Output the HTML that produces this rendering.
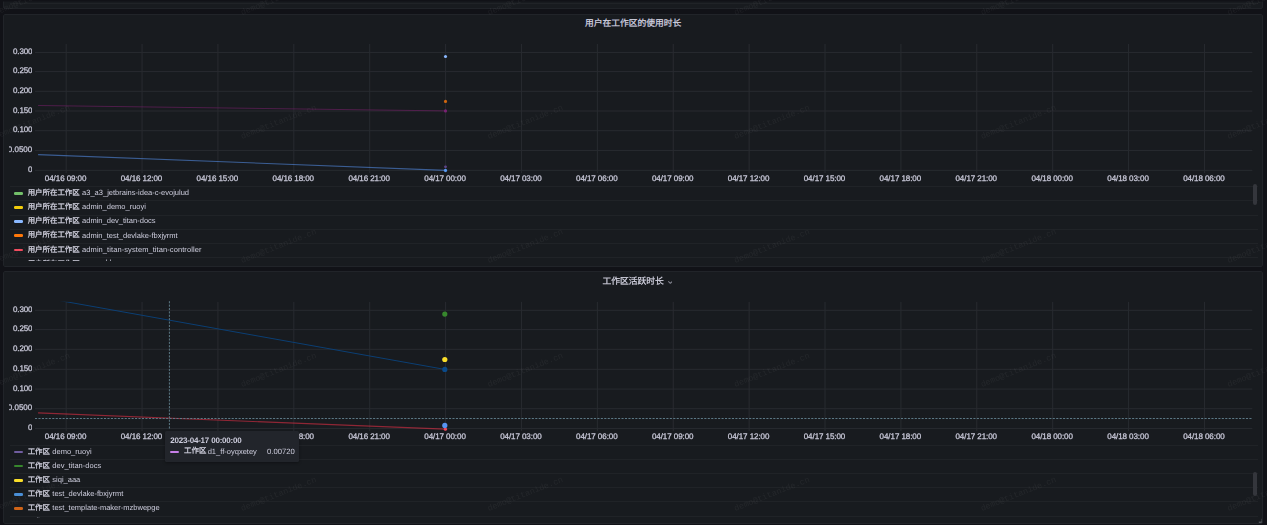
<!DOCTYPE html>
<html lang="zh-CN">
<head>
<meta charset="utf-8">
<title>Dashboard</title>
<style>
html,body{margin:0;padding:0;background:#111217;}
body{text-rendering:geometricPrecision;width:1267px;height:525px;overflow:hidden;font-family:"Liberation Sans",sans-serif;color:#ccccdc;}
.dash{position:relative;width:1267px;height:525px;overflow:hidden;background:#111217;}
.prev{position:absolute;left:3px;top:-20px;width:1260px;height:28.7px;box-sizing:border-box;background:#181b1f;border:1px solid #202328;border-radius:2px;}
.prevline{position:absolute;left:5.5px;right:4.5px;top:22px;height:1px;background:#202327;}
.panel{position:absolute;left:3px;width:1260px;height:253px;box-sizing:border-box;background:#181b1f;border-radius:2px;overflow:hidden;}
.panel:after{content:"";position:absolute;inset:0;border:1px solid #212429;border-radius:2px;pointer-events:none;}
.ptitle{position:absolute;left:0;width:1260.3px;height:0;display:flex;align-items:center;justify-content:center;}
.cjk{display:block;flex:none;overflow:visible;white-space:nowrap;font-family:"Liberation Sans","Noto Sans CJK SC",sans-serif;color:#d2d2e0;-webkit-text-stroke:.25px #d2d2e0;letter-spacing:0;}
.cjk.t{font-size:8.78px;line-height:8.78px;height:8.78px;}
.cjk.s{font-size:7.45px;line-height:7.45px;height:7.45px;}
.legend .cjk,.legend li b{position:relative;top:-.2px;}
.chev{position:absolute;left:664.8px;top:-0.25px;}
.chart{position:absolute;left:0;top:0;overflow:hidden;}
.grid line{stroke:#282b30;stroke-width:1;shape-rendering:auto;}
.yaxis{position:absolute;left:6px;width:23.3px;overflow:hidden;}
.yaxis span{position:absolute;right:0;height:0;line-height:0;font-size:8px;letter-spacing:-.15px;white-space:nowrap;color:#c8c8d8;-webkit-text-stroke:.28px #c8c8d8;}
.xaxis span{position:absolute;width:0;height:0;line-height:0;font-size:8px;letter-spacing:-.07px;white-space:nowrap;display:flex;justify-content:center;color:#c8c8d8;-webkit-text-stroke:.28px #c8c8d8;}
.xaxis,.yaxis{will-change:transform;}
.legend{position:absolute;left:6.5px;width:1248px;overflow:hidden;}
.legend ul{list-style:none;margin:0;padding:0;}
.legend li{box-sizing:border-box;border-top:1px solid #202327;padding-bottom:1.9px;display:flex;align-items:center;white-space:nowrap;position:relative;}
.legend li i{display:block;flex:none;margin-left:4.5px;width:9px;height:2.7px;border-radius:1.3px;margin-right:4.7px;position:relative;top:.45px;}
.legend li b,.tip b{font-weight:normal;font-size:7.53px;margin-left:2.3px;letter-spacing:0;}
.sbar{position:absolute;left:1249.9px;width:4.2px;border-radius:2.1px;background:#34363c;}
.tip{position:absolute;width:134.4px;height:31.6px;background:#22252b;border-radius:1.5px;box-shadow:0 1px 3px rgba(0,0,0,.35);}
.tt{position:absolute;left:5.1px;top:9.9px;height:0;line-height:0;font-size:8px;letter-spacing:-.2px;font-weight:bold;white-space:nowrap;}
.tr{position:absolute;left:5.1px;right:4.6px;top:20.5px;height:0;display:flex;align-items:center;white-space:nowrap;}
.tr i{display:block;flex:none;width:8.8px;height:2px;border-radius:1px;background:#c77fe8;margin-right:5.1px;position:relative;top:.5px;}
.tip b{margin-left:1.3px !important;}
.tr em{font-style:normal;font-size:7.7px;margin-left:auto;}
.rz{position:absolute;}
.wm{position:absolute;left:0;top:0;pointer-events:none;}
.wm text{font-family:"Liberation Mono",monospace;font-size:8.4px;fill:#ffffff;fill-opacity:.05;}
.legend li:nth-child(6) .cjk{top:-.3px;}
.legend li:nth-child(6) b{top:-1.2px;}
.topshade{position:absolute;left:0;top:0;width:1267px;height:2px;background:linear-gradient(#111217 0,#111217 1.1px,rgba(17,18,23,0) 2px);}
.yaxis span:nth-child(6){letter-spacing:.02px;}
.p1 .legend li:nth-child(5) b{letter-spacing:.07px;}

</style>
</head>
<body>

<main class="dash">
<section class="prev"><div class="prevline"></div></section>
<div class="topshade"></div>
<section class="panel p1" style="top:14.0px">
<header class="ptitle" style="top:9.30px"><span class="cjk t">用户在工作区的使用时长</span></header>
<svg class="chart" width="1260.0" height="253.0" viewBox="3.0 14.0 1260.0 253.0"><g class="grid"><line x1="35.0" x2="1252.3" y1="52.45" y2="52.45"/><line x1="35.0" x2="1252.3" y1="71.60" y2="71.60"/><line x1="35.0" x2="1252.3" y1="91.30" y2="91.30"/><line x1="35.0" x2="1252.3" y1="111.00" y2="111.00"/><line x1="35.0" x2="1252.3" y1="130.70" y2="130.70"/><line x1="35.0" x2="1252.3" y1="150.45" y2="150.45"/><line x1="35.0" x2="1252.3" y1="170.35" y2="170.35"/><line x1="66.16" x2="66.16" y1="44.0" y2="173.0"/><line x1="142.05" x2="142.05" y1="44.0" y2="173.0"/><line x1="217.93" x2="217.93" y1="44.0" y2="173.0"/><line x1="293.82" x2="293.82" y1="44.0" y2="173.0"/><line x1="369.71" x2="369.71" y1="44.0" y2="173.0"/><line x1="445.60" x2="445.60" y1="44.0" y2="173.0"/><line x1="521.48" x2="521.48" y1="44.0" y2="173.0"/><line x1="597.37" x2="597.37" y1="44.0" y2="173.0"/><line x1="673.26" x2="673.26" y1="44.0" y2="173.0"/><line x1="749.14" x2="749.14" y1="44.0" y2="173.0"/><line x1="825.03" x2="825.03" y1="44.0" y2="173.0"/><line x1="900.92" x2="900.92" y1="44.0" y2="173.0"/><line x1="976.80" x2="976.80" y1="44.0" y2="173.0"/><line x1="1052.69" x2="1052.69" y1="44.0" y2="173.0"/><line x1="1128.58" x2="1128.58" y1="44.0" y2="173.0"/><line x1="1204.47" x2="1204.47" y1="44.0" y2="173.0"/></g>
<g class="series" fill="none" stroke-linecap="butt">
<line x1="38.1" y1="105.5" x2="445.5" y2="110.9" stroke="#6d1f62" stroke-opacity=".64" stroke-width="1"/>
<line x1="38.1" y1="154.6" x2="445.5" y2="170.4" stroke="#5794f2" stroke-opacity=".55" stroke-width="1.1"/>
</g>
<g class="pts">
<circle cx="445.5" cy="56.5" r="1.55" fill="#8ab8ff"/>
<circle cx="445.5" cy="101.4" r="1.55" fill="#d0660f"/>
<circle cx="445.5" cy="110.9" r="1.55" fill="#7a2273"/>
<circle cx="445.5" cy="166.8" r="1.4" fill="#5f4589"/>
<circle cx="445.5" cy="170.4" r="1.6" fill="#5a9cf5"/>
</g></svg>
<div class="yaxis" style="top:0;height:253.0px">
<span style="top:38.20px">0.300</span>
<span style="top:57.35px">0.250</span>
<span style="top:77.05px">0.200</span>
<span style="top:96.75px">0.150</span>
<span style="top:116.45px">0.100</span>
<span style="top:136.20px">0.0500</span>
<span style="top:156.10px">0</span>
</div>
<div class="xaxis">
<span style="left:62.60px;top:165.20px">04/16 09:00</span>
<span style="left:138.49px;top:165.20px">04/16 12:00</span>
<span style="left:214.37px;top:165.20px">04/16 15:00</span>
<span style="left:290.26px;top:165.20px">04/16 18:00</span>
<span style="left:366.15px;top:165.20px">04/16 21:00</span>
<span style="left:442.04px;top:165.20px">04/17 00:00</span>
<span style="left:517.92px;top:165.20px">04/17 03:00</span>
<span style="left:593.81px;top:165.20px">04/17 06:00</span>
<span style="left:669.70px;top:165.20px">04/17 09:00</span>
<span style="left:745.58px;top:165.20px">04/17 12:00</span>
<span style="left:821.47px;top:165.20px">04/17 15:00</span>
<span style="left:897.36px;top:165.20px">04/17 18:00</span>
<span style="left:973.24px;top:165.20px">04/17 21:00</span>
<span style="left:1049.13px;top:165.20px">04/18 00:00</span>
<span style="left:1125.02px;top:165.20px">04/18 03:00</span>
<span style="left:1200.91px;top:165.20px">04/18 06:00</span>
</div>
<div class="legend" style="top:172.30px;height:74.80px">
<ul>
<li style="height:14.13px"><i style="background:#73bf69"></i><span class="cjk s">用户所在工作区</span><b>a3_a3_jetbrains-idea-c-evojulud</b></li>
<li style="height:14.13px"><i style="background:#f2cc0c"></i><span class="cjk s">用户所在工作区</span><b>admin_demo_ruoyi</b></li>
<li style="height:14.13px"><i style="background:#8ab8ff"></i><span class="cjk s">用户所在工作区</span><b>admin_dev_titan-docs</b></li>
<li style="height:14.13px"><i style="background:#ff780a"></i><span class="cjk s">用户所在工作区</span><b>admin_test_devlake-fbxjyrmt</b></li>
<li style="height:14.13px"><i style="background:#f2495c"></i><span class="cjk s">用户所在工作区</span><b>admin_titan-system_titan-controller</b></li>
<li style="height:14.13px"><i style="background:#5794f2"></i><span class="cjk s">用户所在工作区</span><b>aaron_hkcms</b></li>
</ul>
</div>
<div class="sbar" style="top:170.30px;height:20.6px"></div>

</section>
<section class="panel p2" style="top:271.0px">
<header class="ptitle" style="top:10.10px"><span class="cjk t">工作区活跃时长</span><svg class="chev" width="4.7" height="3" viewBox="0 0 4.7 3"><path d="M0.6 0.6 L2.35 2.3 L4.1 0.6" fill="none" stroke="#82848f" stroke-width="1.05" stroke-linecap="round" stroke-linejoin="round"/></svg></header>
<svg class="chart" width="1260.0" height="253.0" viewBox="3.0 271.0 1260.0 253.0"><g class="grid"><line x1="35.0" x2="1252.3" y1="310.30" y2="310.30"/><line x1="35.0" x2="1252.3" y1="329.60" y2="329.60"/><line x1="35.0" x2="1252.3" y1="349.30" y2="349.30"/><line x1="35.0" x2="1252.3" y1="369.30" y2="369.30"/><line x1="35.0" x2="1252.3" y1="389.10" y2="389.10"/><line x1="35.0" x2="1252.3" y1="408.70" y2="408.70"/><line x1="35.0" x2="1252.3" y1="428.45" y2="428.45"/><line x1="66.16" x2="66.16" y1="301.9" y2="431.0"/><line x1="142.05" x2="142.05" y1="301.9" y2="431.0"/><line x1="217.93" x2="217.93" y1="301.9" y2="431.0"/><line x1="293.82" x2="293.82" y1="301.9" y2="431.0"/><line x1="369.71" x2="369.71" y1="301.9" y2="431.0"/><line x1="445.60" x2="445.60" y1="301.9" y2="431.0"/><line x1="521.48" x2="521.48" y1="301.9" y2="431.0"/><line x1="597.37" x2="597.37" y1="301.9" y2="431.0"/><line x1="673.26" x2="673.26" y1="301.9" y2="431.0"/><line x1="749.14" x2="749.14" y1="301.9" y2="431.0"/><line x1="825.03" x2="825.03" y1="301.9" y2="431.0"/><line x1="900.92" x2="900.92" y1="301.9" y2="431.0"/><line x1="976.80" x2="976.80" y1="301.9" y2="431.0"/><line x1="1052.69" x2="1052.69" y1="301.9" y2="431.0"/><line x1="1128.58" x2="1128.58" y1="301.9" y2="431.0"/><line x1="1204.47" x2="1204.47" y1="301.9" y2="431.0"/></g>
<defs><clipPath id="c2"><rect x="35" y="301.8" width="1218" height="130"/></clipPath></defs>
<g class="series" fill="none" clip-path="url(#c2)">
<line x1="38.1" y1="296.7" x2="444.8" y2="369.4" stroke="#0a437c" stroke-opacity=".9" stroke-width="1"/>
<line x1="38.1" y1="412.9" x2="445.4" y2="429.2" stroke="#e02f44" stroke-opacity=".6" stroke-width="1.2"/>
</g>
<g class="cross" stroke="#607d8b" stroke-opacity=".95" stroke-width="1" stroke-dasharray="2.1 1.35">
<line x1="169.4" x2="169.4" y1="301.2" y2="428.5" stroke-dasharray="2.1 1.284"/>
<line x1="35" x2="1252.3" y1="418.5" y2="418.5"/>
</g>
<g class="pts">
<circle cx="444.8" cy="314.1" r="2.6" fill="#37872d"/>
<circle cx="444.8" cy="359.5" r="2.6" fill="#fade2a"/>
<circle cx="444.8" cy="369.4" r="2.6" fill="#0a4a8a"/>
<circle cx="445.4" cy="429.2" r="1.6" fill="#f2495c"/>
<circle cx="444.8" cy="425.4" r="2.6" fill="#5794f2"/>
</g></svg>
<div class="yaxis" style="top:0;height:253.0px">
<span style="top:39.05px">0.300</span>
<span style="top:58.35px">0.250</span>
<span style="top:78.05px">0.200</span>
<span style="top:98.05px">0.150</span>
<span style="top:117.85px">0.100</span>
<span style="top:137.45px">0.0500</span>
<span style="top:157.20px">0</span>
</div>
<div class="xaxis">
<span style="left:62.60px;top:166.20px">04/16 09:00</span>
<span style="left:138.49px;top:166.20px">04/16 12:00</span>
<span style="left:214.37px;top:166.20px">04/16 15:00</span>
<span style="left:290.26px;top:166.20px">04/16 18:00</span>
<span style="left:366.15px;top:166.20px">04/16 21:00</span>
<span style="left:442.04px;top:166.20px">04/17 00:00</span>
<span style="left:517.92px;top:166.20px">04/17 03:00</span>
<span style="left:593.81px;top:166.20px">04/17 06:00</span>
<span style="left:669.70px;top:166.20px">04/17 09:00</span>
<span style="left:745.58px;top:166.20px">04/17 12:00</span>
<span style="left:821.47px;top:166.20px">04/17 15:00</span>
<span style="left:897.36px;top:166.20px">04/17 18:00</span>
<span style="left:973.24px;top:166.20px">04/17 21:00</span>
<span style="left:1049.13px;top:166.20px">04/18 00:00</span>
<span style="left:1125.02px;top:166.20px">04/18 03:00</span>
<span style="left:1200.91px;top:166.20px">04/18 06:00</span>
</div>
<div class="legend" style="top:173.90px;height:73.20px">
<ul>
<li style="height:14.13px"><i style="background:#705da0"></i><span class="cjk s">工作区</span><b>demo_ruoyi</b></li>
<li style="height:14.13px"><i style="background:#37872d"></i><span class="cjk s">工作区</span><b>dev_titan-docs</b></li>
<li style="height:14.13px"><i style="background:#fade2a"></i><span class="cjk s">工作区</span><b>siqi_aaa</b></li>
<li style="height:14.13px"><i style="background:#4a8fd6"></i><span class="cjk s">工作区</span><b>test_devlake-fbxjyrmt</b></li>
<li style="height:14.13px"><i style="background:#cf6418"></i><span class="cjk s">工作区</span><b>test_template-maker-mzbwepge</b></li>
<li style="height:14.13px"><i style="background:#890f02"></i><span class="cjk s">工作区</span><b>x</b></li>
</ul>
</div>
<div class="sbar" style="top:201.20px;height:23.7px"></div>
<div class="tip" style="left:162.10px;top:159.70px">
<div class="tt">2023-04-17 00:00:00</div>
<div class="tr"><i></i><span class="cjk s">工作区</span><b>d1_ff-oyqxetey</b><em>0.00720</em></div>
</div>
<svg class="rz" width="5" height="5" viewBox="0 0 5 5" style="left:1254.6px;top:247.39999999999998px"><path d="M4.2 0.8V4.2H0.8" fill="none" stroke="#6b6d76" stroke-width="1"/></svg>
</section>
<svg class="wm" width="1267" height="525" viewBox="0 0 1267 525" aria-hidden="true"><text transform="translate(-4.5 -109.0) rotate(-21.5)">demo@titanide.cn</text><text transform="translate(242.1 -109.0) rotate(-21.5)">demo@titanide.cn</text><text transform="translate(488.7 -109.0) rotate(-21.5)">demo@titanide.cn</text><text transform="translate(735.3 -109.0) rotate(-21.5)">demo@titanide.cn</text><text transform="translate(981.9 -109.0) rotate(-21.5)">demo@titanide.cn</text><text transform="translate(1228.5 -109.0) rotate(-21.5)">demo@titanide.cn</text><text transform="translate(-4.5 15.0) rotate(-21.5)">demo@titanide.cn</text><text transform="translate(242.1 15.0) rotate(-21.5)">demo@titanide.cn</text><text transform="translate(488.7 15.0) rotate(-21.5)">demo@titanide.cn</text><text transform="translate(735.3 15.0) rotate(-21.5)">demo@titanide.cn</text><text transform="translate(981.9 15.0) rotate(-21.5)">demo@titanide.cn</text><text transform="translate(1228.5 15.0) rotate(-21.5)">demo@titanide.cn</text><text transform="translate(-4.5 139.0) rotate(-21.5)">demo@titanide.cn</text><text transform="translate(242.1 139.0) rotate(-21.5)">demo@titanide.cn</text><text transform="translate(488.7 139.0) rotate(-21.5)">demo@titanide.cn</text><text transform="translate(735.3 139.0) rotate(-21.5)">demo@titanide.cn</text><text transform="translate(981.9 139.0) rotate(-21.5)">demo@titanide.cn</text><text transform="translate(1228.5 139.0) rotate(-21.5)">demo@titanide.cn</text><text transform="translate(-4.5 263.0) rotate(-21.5)">demo@titanide.cn</text><text transform="translate(242.1 263.0) rotate(-21.5)">demo@titanide.cn</text><text transform="translate(488.7 263.0) rotate(-21.5)">demo@titanide.cn</text><text transform="translate(735.3 263.0) rotate(-21.5)">demo@titanide.cn</text><text transform="translate(981.9 263.0) rotate(-21.5)">demo@titanide.cn</text><text transform="translate(1228.5 263.0) rotate(-21.5)">demo@titanide.cn</text><text transform="translate(-4.5 387.0) rotate(-21.5)">demo@titanide.cn</text><text transform="translate(242.1 387.0) rotate(-21.5)">demo@titanide.cn</text><text transform="translate(488.7 387.0) rotate(-21.5)">demo@titanide.cn</text><text transform="translate(735.3 387.0) rotate(-21.5)">demo@titanide.cn</text><text transform="translate(981.9 387.0) rotate(-21.5)">demo@titanide.cn</text><text transform="translate(1228.5 387.0) rotate(-21.5)">demo@titanide.cn</text><text transform="translate(-4.5 511.0) rotate(-21.5)">demo@titanide.cn</text><text transform="translate(242.1 511.0) rotate(-21.5)">demo@titanide.cn</text><text transform="translate(488.7 511.0) rotate(-21.5)">demo@titanide.cn</text><text transform="translate(735.3 511.0) rotate(-21.5)">demo@titanide.cn</text><text transform="translate(981.9 511.0) rotate(-21.5)">demo@titanide.cn</text><text transform="translate(1228.5 511.0) rotate(-21.5)">demo@titanide.cn</text></svg>
</main>
</body>
</html>
